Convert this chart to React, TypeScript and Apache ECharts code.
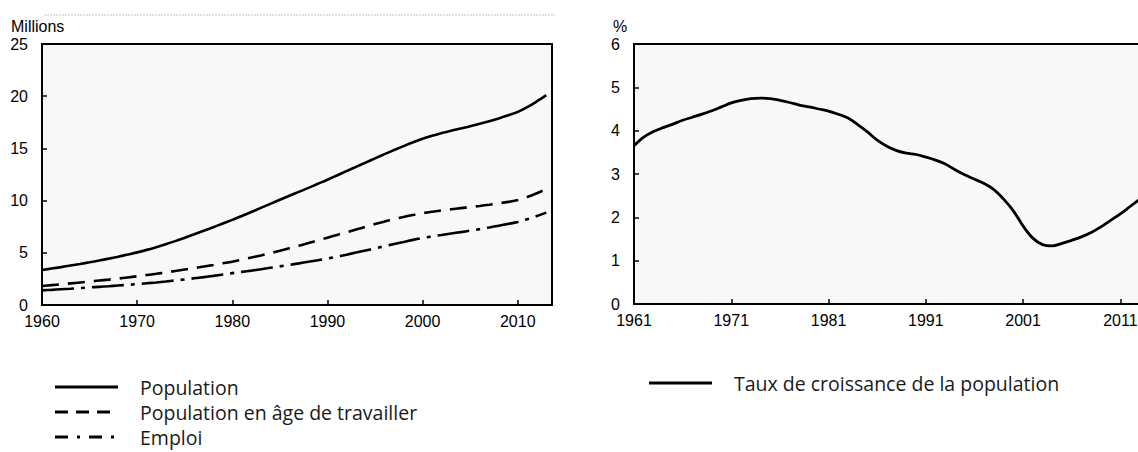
import React, { useEffect, useRef } from "react";
import * as echarts from "echarts";

// ---------- Data ----------
const leftStartYear = 1960;
const leftSeriesNames = ["Population", "Population en âge de travailler", "Emploi"];
// Millions, 1960..2013
const population = [
  3.35, 3.49, 3.63, 3.78, 3.93, 4.09, 4.26, 4.44, 4.63, 4.83,
  5.04, 5.28, 5.54, 5.82, 6.12, 6.44, 6.77, 7.11, 7.45, 7.80,
  8.15, 8.53, 8.91, 9.30, 9.69, 10.08, 10.46, 10.84, 11.22, 11.61,
  12.00, 12.41, 12.82, 13.23, 13.64, 14.05, 14.45, 14.84, 15.22, 15.59,
  15.93, 16.22, 16.47, 16.70, 16.91, 17.12, 17.35, 17.60, 17.87, 18.17,
  18.50, 18.95, 19.50, 20.10,
];
const workingAge = [
  1.82, 1.90, 1.98, 2.07, 2.16, 2.25, 2.34, 2.43, 2.53, 2.64,
  2.75, 2.87, 2.99, 3.12, 3.26, 3.40, 3.54, 3.68, 3.83, 3.99,
  4.15, 4.34, 4.54, 4.75, 4.97, 5.20, 5.44, 5.68, 5.93, 6.19,
  6.45, 6.71, 6.97, 7.23, 7.49, 7.75, 7.99, 8.22, 8.43, 8.62,
  8.80, 8.94, 9.06, 9.17, 9.28, 9.38, 9.49, 9.61, 9.74, 9.88,
  10.05, 10.35, 10.70, 11.10,
];
const employment = [
  1.40, 1.45, 1.51, 1.56, 1.62, 1.68, 1.74, 1.80, 1.87, 1.93,
  2.00, 2.08, 2.16, 2.25, 2.35, 2.45, 2.56, 2.67, 2.79, 2.92,
  3.05, 3.17, 3.29, 3.42, 3.56, 3.70, 3.84, 3.99, 4.14, 4.29,
  4.45, 4.63, 4.82, 5.02, 5.22, 5.42, 5.63, 5.84, 6.04, 6.24,
  6.42, 6.57, 6.71, 6.85, 6.98, 7.12, 7.27, 7.43, 7.60, 7.77,
  7.95, 8.22, 8.52, 8.85,
];

const rightStartYear = 1961;
const rightSeriesName = "Taux de croissance de la population";
// %, 1961..2013
const growthRate = [
  3.65, 3.85, 3.98, 4.07, 4.15, 4.24, 4.31, 4.38, 4.46, 4.55,
  4.64, 4.70, 4.74, 4.75, 4.74, 4.70, 4.65, 4.59, 4.55, 4.50,
  4.45, 4.38, 4.29, 4.14, 3.97, 3.78, 3.64, 3.54, 3.48, 3.45,
  3.39, 3.32, 3.23, 3.10, 2.98, 2.88, 2.78, 2.64, 2.42, 2.15,
  1.80, 1.52, 1.37, 1.34, 1.40, 1.47, 1.55, 1.65, 1.78, 1.93,
  2.08, 2.25, 2.42,
];

const leftAxisName = "Millions";
const rightAxisName = "%";

// ---------- Styles ----------
const AXIS_FONT = "Liberation Sans";
const LEGEND_FONT = "Open Sans";
const DASH = [17, 9];
const DASH_DOT = [32, 7, 4, 7];

function toPairs(start: number, values: number[]) {
  return values.map((v, i) => [start + i, v]);
}

function xAxisCfg(gridIndex: number, min: number, max: number) {
  return {
    type: "value" as const,
    gridIndex,
    min,
    max,
    interval: 10,
    axisLine: { show: true, onZero: false, lineStyle: { color: "#000", width: 2 } },
    axisTick: { show: true, inside: true, length: 5, lineStyle: { color: "#000", width: 1.5 } },
    axisLabel: {
      show: true,
      margin: 8,
      color: "#000",
      fontFamily: AXIS_FONT,
      fontSize: 16,
      showMaxLabel: false,
      formatter: (v: number) => ((v - min) % 10 === 0 ? String(v) : ""),
    },
    splitLine: { show: false },
  };
}

function yAxisCfg(gridIndex: number, max: number, interval: number) {
  return {
    type: "value" as const,
    gridIndex,
    min: 0,
    max,
    interval,
    axisLine: { show: true, lineStyle: { color: "#000", width: 2 } },
    axisTick: { show: true, inside: true, length: 5, lineStyle: { color: "#000", width: 1.5 } },
    axisLabel: { show: true, margin: 14, color: "#000", fontFamily: AXIS_FONT, fontSize: 16 },
    splitLine: { show: false },
  };
}

function legendItem(x: number, y: number, label: string, dash: number[] | null) {
  return [
    {
      type: "line",
      shape: { x1: x, y1: y, x2: x + 63, y2: y },
      style: { stroke: "#000", lineWidth: 3, lineDash: dash || undefined },
    },
    {
      type: "text",
      x: x + 85,
      y,
      style: {
        text: label,
        fill: "#1a1a1a",
        font: `19.5px ${LEGEND_FONT}`,
        textVerticalAlign: "middle",
        verticalAlign: "middle",
      },
    },
  ];
}

export default function App() {
  const ref = useRef<HTMLDivElement>(null);

  useEffect(() => {
    document.body.style.margin = "0";
    const el = ref.current!;
    const chart = echarts.init(el, undefined, { renderer: "svg" });

    const lineBase = { type: "line" as const, showSymbol: false, smooth: 0.35 };

    chart.setOption({
      animation: false,
      backgroundColor: "#fff",
      grid: [
        {
          left: 42, top: 44, width: 510, height: 261,
          show: true, borderColor: "#000", borderWidth: 2, backgroundColor: "#f8f8f8",
        },
        {
          left: 634, top: 44, width: 535, height: 260,
          show: true, borderColor: "#000", borderWidth: 2, backgroundColor: "#f8f8f8",
        },
      ],
      xAxis: [xAxisCfg(0, leftStartYear, 2013.6), xAxisCfg(1, rightStartYear, 2016)],
      yAxis: [yAxisCfg(0, 25, 5), yAxisCfg(1, 6, 1)],
      series: [
        {
          ...lineBase, name: leftSeriesNames[0], xAxisIndex: 0, yAxisIndex: 0,
          data: toPairs(leftStartYear, population),
          lineStyle: { color: "#000", width: 2.6 },
        },
        {
          ...lineBase, name: leftSeriesNames[1], xAxisIndex: 0, yAxisIndex: 0,
          data: toPairs(leftStartYear, workingAge),
          lineStyle: { color: "#000", width: 2.6, type: DASH },
        },
        {
          ...lineBase, name: leftSeriesNames[2], xAxisIndex: 0, yAxisIndex: 0,
          data: toPairs(leftStartYear, employment),
          lineStyle: { color: "#000", width: 2.6, type: DASH_DOT },
        },
        {
          ...lineBase, name: rightSeriesName, xAxisIndex: 1, yAxisIndex: 1,
          data: toPairs(rightStartYear, growthRate),
          lineStyle: { color: "#000", width: 2.8 },
        },
      ],
      graphic: [
        {
          type: "line",
          shape: { x1: 44, y1: 15, x2: 555, y2: 15 },
          style: { stroke: "#d6d6d6", lineWidth: 1.5, lineDash: [2, 1] },
        },
        {
          type: "text", x: 11, y: 26,
          style: { text: leftAxisName, fill: "#000", font: `16px ${AXIS_FONT}`, textVerticalAlign: "middle", verticalAlign: "middle" },
        },
        {
          type: "text", x: 613, y: 26,
          style: { text: rightAxisName, fill: "#000", font: `16px ${AXIS_FONT}`, textVerticalAlign: "middle", verticalAlign: "middle" },
        },
        ...legendItem(55, 387, leftSeriesNames[0], null),
        ...legendItem(55, 412, leftSeriesNames[1], [13, 8]),
        ...legendItem(55, 437, leftSeriesNames[2], [13, 9, 3, 9]),
        ...legendItem(649, 383, rightSeriesName, null),
      ],
    });

    return () => chart.dispose();
  }, []);

  return (
    <div style={{ position: "fixed", left: 0, top: 0, width: 1138, height: 452, overflow: "hidden", background: "#fff" }}>
      <div ref={ref} style={{ width: 1180, height: 452 }} />
    </div>
  );
}
